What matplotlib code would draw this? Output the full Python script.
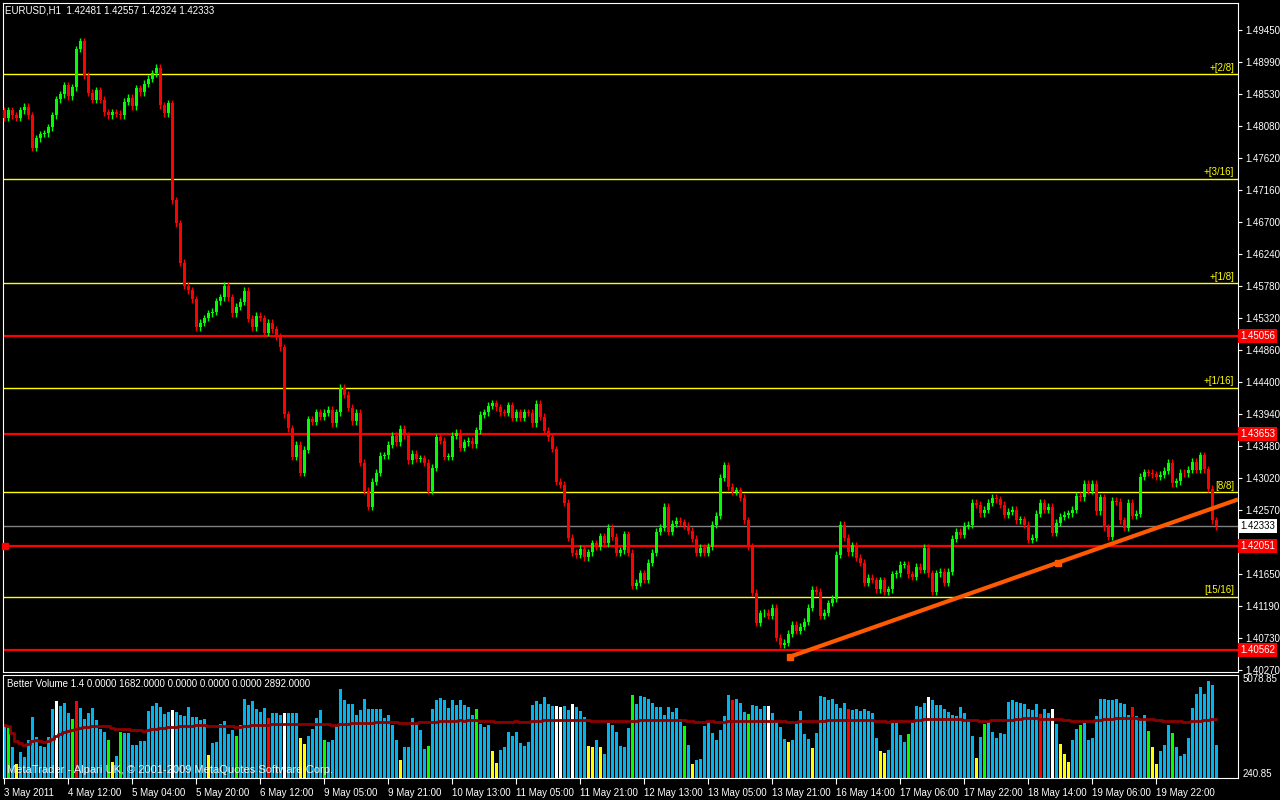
import matplotlib
matplotlib.use("Agg")
import matplotlib.pyplot as plt
import numpy as np
import pandas as pd

# ---------------- data ----------------
closes = [
1.4819,1.4830,1.4823,1.4819,1.4830,1.4835,1.4823,1.4776,1.4790,1.4796,
1.4797,1.4806,1.4823,1.4846,1.4853,1.4866,1.4850,1.4863,1.4918,1.4929,
1.4880,1.4855,1.4845,1.4859,1.4845,1.4827,1.4823,1.4827,1.4825,1.4823,
1.4842,1.4848,1.4836,1.4862,1.4856,1.4868,1.4875,1.4883,1.4891,1.4837,
1.4826,1.4840,1.4701,1.4668,1.4611,1.4578,1.4572,1.4559,1.4519,1.4525,
1.4532,1.4539,1.4541,1.4556,1.4562,1.4578,1.4562,1.4539,1.4548,1.4555,
1.4571,1.4531,1.4519,1.4535,1.4532,1.4511,1.4525,1.4516,1.4505,1.4490,
1.4394,1.4374,1.4333,1.4350,1.4310,1.4343,1.4387,1.4383,1.4397,1.4390,
1.4396,1.4400,1.4381,1.4397,1.4432,1.4422,1.4403,1.4384,1.4396,1.4324,
1.4284,1.4261,1.4297,1.4310,1.4334,1.4335,1.4350,1.4363,1.4354,1.4373,
1.4364,1.4328,1.4337,1.4330,1.4331,1.4324,1.4284,1.4317,1.4361,1.4356,
1.4333,1.4333,1.4363,1.4367,1.4346,1.4354,1.4356,1.4351,1.4371,1.4393,
1.4397,1.4406,1.4410,1.4404,1.4397,1.4396,1.4407,1.4389,1.4397,1.4389,
1.4397,1.4396,1.4381,1.4409,1.4390,1.4370,1.4361,1.4344,1.4297,1.4293,
1.4267,1.4217,1.4195,1.4192,1.4201,1.4189,1.4196,1.4209,1.4204,1.4219,
1.4209,1.4231,1.4218,1.4195,1.4199,1.4222,1.4195,1.4148,1.4152,1.4166,
1.4156,1.4181,1.4195,1.4225,1.4231,1.4261,1.4225,1.4237,1.4241,1.4239,
1.4234,1.4227,1.4215,1.4195,1.4202,1.4195,1.4204,1.4235,1.4248,1.4303,
1.4321,1.4290,1.4283,1.4285,1.4274,1.4242,1.4204,1.4138,1.4095,1.4108,
1.4109,1.4105,1.4116,1.4073,1.4063,1.4066,1.4079,1.4092,1.4083,1.4089,
1.4096,1.4116,1.4142,1.4139,1.4105,1.4109,1.4123,1.4129,1.4192,1.4235,
1.4217,1.4196,1.4206,1.4188,1.4181,1.4152,1.4159,1.4156,1.4143,1.4156,
1.4139,1.4143,1.4164,1.4166,1.4178,1.4178,1.4164,1.4161,1.4175,1.4171,
1.4202,1.4166,1.4139,1.4166,1.4168,1.4152,1.4168,1.4215,1.4225,1.4221,
1.4234,1.4235,1.4267,1.4264,1.4252,1.4257,1.4267,1.4274,1.4272,1.4264,
1.4250,1.4254,1.4257,1.4242,1.4243,1.4235,1.4214,1.4217,1.4251,1.4267,
1.4257,1.4261,1.4224,1.4238,1.4247,1.4250,1.4252,1.4257,1.4277,1.4275,
1.4294,1.4284,1.4294,1.4255,1.4275,1.4232,1.4218,1.4270,1.4268,1.4242,
1.4231,1.4267,1.4248,1.4251,1.4304,1.4311,1.4310,1.4308,1.4304,1.4307,
1.4313,1.4324,1.4295,1.4298,1.4310,1.4309,1.4314,1.4326,1.4314,1.4335,
1.4315,1.4287,1.4242,1.4233]
first_open = 1.4830

volumes = [
2702,2617,1557,736,1334,1078,1950,3096,2070,1608,
1591,2104,3523,3899,3643,3814,3318,2976,3899,3574,
3010,3318,3557,2925,2497,2360,1950,821,1095,2326,
2275,2292,1693,1693,1899,1864,3403,3643,3814,3609,
3267,3352,3455,3352,3181,3147,3609,3096,3096,2959,
3010,1180,1762,1813,2754,2890,2241,2412,2155,2668,
4036,3694,3899,3489,3352,3557,3044,3301,3301,3215,
3301,3301,3301,3301,2018,1728,2155,2497,3061,3472,
1950,1847,1933,2634,4515,3950,3780,3780,3181,3438,
4002,3523,3489,3523,3523,3061,3181,2668,1950,907,
1557,1557,3061,2754,2412,1471,1608,3523,3985,4070,
3950,3557,3950,3694,3950,3728,3609,3215,3523,2754,
2583,2702,1386,753,1437,1557,2326,2155,2326,1762,
1642,1813,3728,3899,3780,4122,3780,3643,3643,3609,
3643,3472,3780,3609,3386,3096,1642,1591,1950,1557,
1215,2788,2702,2326,1642,1557,
2531,4207,3745,4156,4104,4002,3797,3591,3591,3181,
3591,3335,3540,3010,2617,1693,719,924,975,2617,
2822,2309,1950,2412,3130,4207,3950,4002,3797,3335,
3232,3694,3643,3489,3643,3643,3284,2822,2565,2001,
1847,1950,2822,3386,2258,2001,1539,2309,4156,4104,
3950,4002,3745,3540,3797,3489,3438,3489,3386,3489,
3386,3284,2052,1386,1283,1437,2771,2771,2206,1847,
2258,2873,3643,3591,3797,4104,3950,3694,3694,3489,
3335,3181,3130,3591,3284,2925,2155,1026,2104,2719,
2873,2360,2052,2309,2258,3848,3950,3848,3797,3745,
3489,3438,3745,3232,3489,3284,3489,2719,1745,1232,
821,1950,2463,2668,2771,1950,2052,3130,4002,4002,
3950,3950,4002,3797,3745,3181,3591,3130,2976,3181,
2377,1591,719,1386,1693,2668,2309,1591,1129,1232,
2052,3540,4258,4617,4258,4925,4700,1693]

vol_colors = (
"bgbybbbbbb" "bbbwbbbgrb" "bbbbbbgybg" "bbbbbbbbbb" "bbwbbbbbbb"
"bybbbbbbgb" "bbbbbbrbbb" "wbbbyybbbb" "gbbbbbbbbb" "bbbbbbbbby"
"bbbbbbgbbb" "bbbbbbbbgb" "bbyybbbbbb" "bbbbbbbbww" "bbwbbbyyby"
"bbbbbb"
"bgbbbbbbbb" "bbbbgbybbb" "bbbbbbrbbb" "gbbbbwbbbb" "ybbbbbybbb"
"bbbbbrbbbb" "bbbyybbbbb" "gbbbbwbbbb" "bbbbbbbybg" "bbbbbbbbbb"
"bbbrbbwbyy" "ybbgbbbbbb" "bbbbbbrbbb" "gyybbbgbbb" "bbbbbbbb")

murrey_levels = [1.4882, 1.4732, 1.4582, 1.4432, 1.4282, 1.4132]
murrey_labels = ["+[2/8]", "+[3/16]", "+[1/8]", "+[1/16]", "[8/8]", "[15/16]"]
sr_levels = [1.45056, 1.43653, 1.42051, 1.40562]
last_price = 1.42333
trend_bars = [197.5, 264.5]
trend_prices = [1.4046, 1.4181]

price_ticks = [1.49450,1.48990,1.48530,1.48080,1.47620,1.47160,1.46700,1.46240,
               1.45780,1.45320,1.44860,1.44400,1.43940,1.43480,1.43020,1.42570,
               1.41650,1.41190,1.40730,1.40270]
date_labels = ["3 May 2011","4 May 12:00","5 May 04:00","5 May 20:00","6 May 12:00",
               "9 May 05:00","9 May 21:00","10 May 13:00","11 May 05:00","11 May 21:00",
               "12 May 13:00","13 May 05:00","13 May 21:00","16 May 14:00","17 May 06:00",
               "17 May 22:00","18 May 14:00","19 May 06:00","19 May 22:00"]

# ---------------- figure ----------------
FONT = "Liberation Sans"
FS = 7.0
plt.rcParams["font.family"] = FONT
fig = plt.figure(figsize=(12.8, 8.0), dpi=100, facecolor="black")
W, H = 1280, 800
ax = fig.add_axes([3/W, 1-672/H, 1235/W, 669/H], facecolor="black")
axv = fig.add_axes([3/W, 1-778/H, 1235/W, 103/H], facecolor="black", sharex=ax)

n = len(closes)
x = np.arange(1, n+1)
c = np.array(closes)
o = np.concatenate([[first_open], c[:-1]])
wick = 0.0005
hi = np.maximum(o, c) + wick
lo = np.minimum(o, c) - wick
up = c >= o
cols = np.where(up, "#00ff00", "#ff0000")
ax.vlines(x, lo, hi, colors=cols, lw=1, zorder=3)
body = np.abs(c - o)
body = np.where(body < 0.00007, 0.00007, body)
ax.bar(x, body, bottom=np.minimum(o, c), width=0.75, color=cols, lw=0, zorder=4)

for lv, lb in zip(murrey_levels, murrey_labels):
    ax.axhline(lv, color="#ffff00", lw=1, zorder=2)
    ax.text(0.997, lv + 0.0002, lb, transform=ax.get_yaxis_transform(), color="#ffff00",
            fontsize=FS, ha="right", va="bottom")
for lv in sr_levels:
    ax.axhline(lv, color="#ff0000", lw=1.6, zorder=2)
ax.axhline(last_price, color="#808080", lw=1, zorder=2)

slope = (trend_prices[1]-trend_prices[0])/(trend_bars[1]-trend_bars[0])
xe = 309.5
ax.plot([trend_bars[0], xe], [trend_prices[0], trend_prices[0]+slope*(xe-trend_bars[0])],
        color="#ff5a00", lw=3, zorder=5, solid_capstyle="butt")
ax.plot(trend_bars, trend_prices, "s", color="#ff5a00", ms=5, zorder=6)

ax.set_xlim(0.75, 309.5)
ax.set_ylim(1.4024, 1.4984)
ax.set_yticks(price_ticks)
ax.yaxis.tick_right()
ax.tick_params(axis="y", colors="white", labelsize=FS, length=3, pad=2)
ax.set_yticklabels([f"{t:.5f}" for t in price_ticks])
ax.tick_params(axis="x", bottom=False, labelbottom=False)
for s in ax.spines.values():
    s.set_color("white")

for lv in sr_levels:
    ax.text(1.0015, lv, f"{lv:.5f}", transform=ax.get_yaxis_transform(), color="white",
            fontsize=FS, va="center", ha="left",
            bbox=dict(boxstyle="square,pad=0.2", fc="#ff0000", ec="none"), clip_on=False)
ax.text(1.0015, last_price, f"{last_price:.5f}", transform=ax.get_yaxis_transform(), color="black",
        fontsize=FS, va="center", ha="left",
        bbox=dict(boxstyle="square,pad=0.2", fc="white", ec="none"), clip_on=False)
ax.plot([0.0015], [sr_levels[2]], "s", transform=ax.get_yaxis_transform(), color="#ff0000",
        ms=4, clip_on=False, zorder=6)

ax.text(0.002, 0.996, "EURUSD,H1  1.42481 1.42557 1.42324 1.42333", transform=ax.transAxes,
        color="white", fontsize=FS, va="top", ha="left")

cmap = {"b": "#00b4f0", "g": "#00ff00", "r": "#ff0000", "w": "#ffffff", "y": "#ffff00"}
v = np.array(volumes[:n])
vc = [cmap[ch] for ch in vol_colors[:n]]
axv.bar(x, v, width=0.75, color=vc, lw=0)
ma = pd.Series(v).rolling(100, min_periods=1).mean()
axv.step(x, ma, where="mid", color="#8b0000", lw=2)
axv.set_ylim(0, 5230)
axv.set_yticks([5078.85, 240.85])
axv.set_yticklabels(["5078.85", "240.85"])
axv.yaxis.tick_right()
axv.tick_params(axis="y", colors="white", labelsize=FS, length=0, pad=3)
for s in axv.spines.values():
    s.set_color("white")
axv.text(0.003, 0.96, "Better Volume 1.4 0.0000 1682.0000 0.0000 0.0000 0.0000 2892.0000",
         transform=axv.transAxes, color="white", fontsize=FS, va="top", ha="left")
axv.text(0.003, 0.03, "MetaTrader - Alpari UK, \u00a9 2001-2009 MetaQuotes Software Corp.",
         transform=axv.transAxes, color="white", fontsize=FS+1, va="bottom", ha="left", alpha=0.9)

tick_pos = [1 + 16*j for j in range(len(date_labels))]
axv.set_xticks(tick_pos)
axv.set_xticklabels(date_labels, ha="left")
axv.tick_params(axis="x", colors="white", labelsize=FS, length=4, pad=3)
axv.set_xlim(0.75, 309.5)

fig.savefig("out.png", dpi=100, facecolor="black")
